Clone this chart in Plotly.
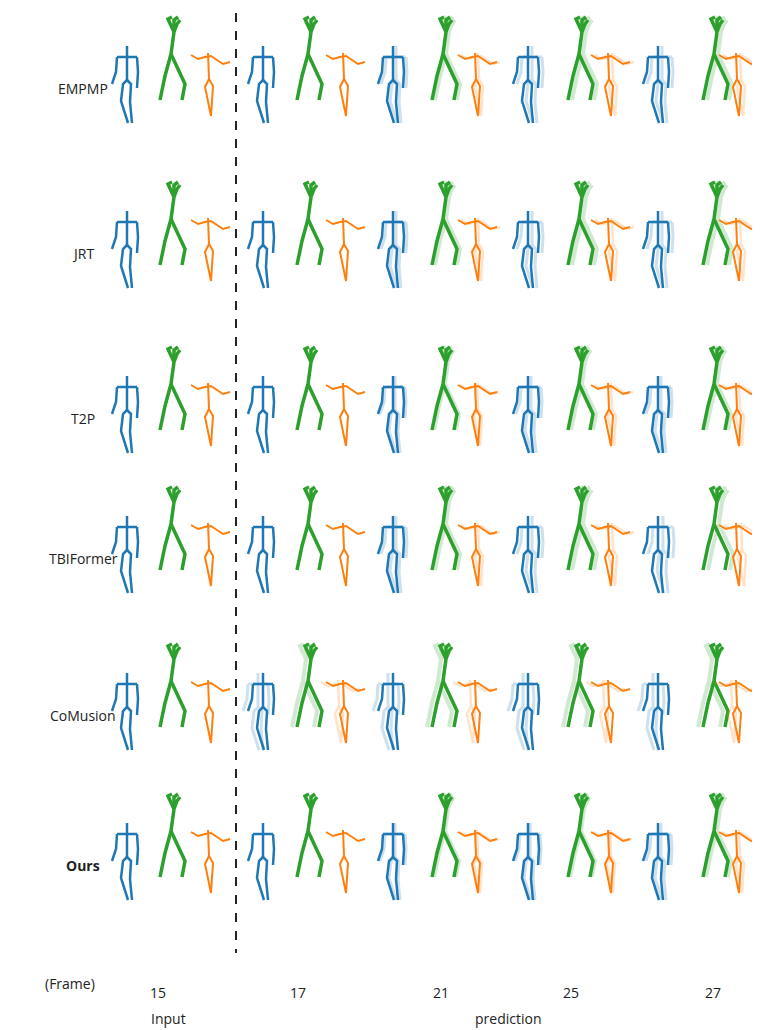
import plotly.graph_objects as go

methods = ["EMPMP", "JRT", "T2P", "TBIFormer", "CoMusion", "<b>Ours</b>"]
frames = ["15", "17", "21", "25", "27"]
phase_labels = ["Input", "prediction"]

# column anchors (x of blue, green, orange figure per frame column)
blue_x = [119, 255, 385, 520, 650]
green_x = [160, 297, 432, 568, 703]
orange_x = [200, 335, 467, 600, 728]
row_label_y = [80, 245, 410, 550, 707, 857]
row_top = [y - 42 for y in row_label_y]

# ghost (ground-truth) offset per row/column, drawn faded
ghost_dx = [
    [0, 0, 3, 4, 4],
    [0, 0, 3, 4, 4],
    [0, 0, 2, 3, 3],
    [0, 0, 3, 4, 5],
    [0, -5, -5, -5, -5],
    [0, 0, 2, 2, 3],
]

# skeleton polylines, relative to (anchor x, row top)
blue_skel = [
    [(0, 0), (0, 10), (0, 34)],
    [(-10, 11), (10, 11)],
    [(-10, 11), (-11, 26), (-15, 38)],
    [(10, 11), (11, 26), (10, 42)],
    [(0, 34), (-4, 38), (-6, 55), (-3, 65), (1, 77)],
    [(0, 34), (4, 38), (3, 56), (5, 77)],
]
green_skel = [
    [(6, -14), (3, 8)],
    [(3, 8), (-3, 30), (-8, 54)],
    [(3, 8), (17, 38), (14, 54)],
    [(6, -14), (0, -27), (4, -29)],
    [(6, -14), (6, -26), (10, -29)],
    [(6, -14), (9, -22), (12, -26)],
]
orange_skel = [
    [(-17, 9), (-10, 13), (-3, 11), (3, 10), (15, 18), (22, 16)],
    [(0, 7), (1, 33)],
    [(1, 33), (-3, 41), (3, 70), (5, 40), (1, 33)],
]


def build(skel, xs, dx_tab=None):
    px, py = [], []
    for r, top in enumerate(row_top):
        for c, x0 in enumerate(xs):
            if dx_tab and dx_tab[r][c] == 0:
                continue
            dx = dx_tab[r][c] if dx_tab else 0
            for line in skel:
                for (u, v) in line:
                    px.append(x0 + u + dx)
                    py.append(top + v)
                px.append(None)
                py.append(None)
    return px, py


fig = go.Figure()
colors = {"blue": "#1f77b4", "green": "#2ca02c", "orange": "#ff7f0e"}
for skel, xs, col, w in [(blue_skel, blue_x, "blue", 2.5),
                         (green_skel, green_x, "green", 3.5),
                         (orange_skel, orange_x, "orange", 2)]:
    gx, gy = build(skel, xs, ghost_dx)
    fig.add_trace(go.Scatter(x=gx, y=gy, mode="lines", opacity=0.22,
                             line=dict(color=colors[col], width=w + 0.5), hoverinfo="skip"))
    sx, sy = build(skel, xs)
    fig.add_trace(go.Scatter(x=sx, y=sy, mode="lines",
                             line=dict(color=colors[col], width=w), hoverinfo="skip"))

fig.add_trace(go.Scatter(x=[228, 228], y=[5, 945], mode="lines",
                         line=dict(color="#222", width=2, dash="dash"), hoverinfo="skip"))

ann = []
for m, y in zip(methods, row_label_y):
    ann.append(dict(x=75, y=y, text=m))
ann.append(dict(x=62, y=975, text="(Frame)"))
for f, x in zip(frames, [150, 290, 433, 563, 705]):
    ann.append(dict(x=x, y=984, text=f))
ann.append(dict(x=160, y=1010, text=phase_labels[0]))
ann.append(dict(x=500, y=1010, text=phase_labels[1]))
for a in ann:
    a.update(showarrow=False, xref="x", yref="y",
             font=dict(size=14, color="#222", family="Open Sans"))

fig.update_layout(
    width=760, height=1030, margin=dict(l=0, r=0, t=0, b=0),
    plot_bgcolor="white", paper_bgcolor="white", showlegend=False,
    annotations=ann,
    xaxis=dict(range=[0, 760], visible=False, fixedrange=True),
    yaxis=dict(range=[1030, 0], visible=False, fixedrange=True),
)
fig.write_html("out.html")
